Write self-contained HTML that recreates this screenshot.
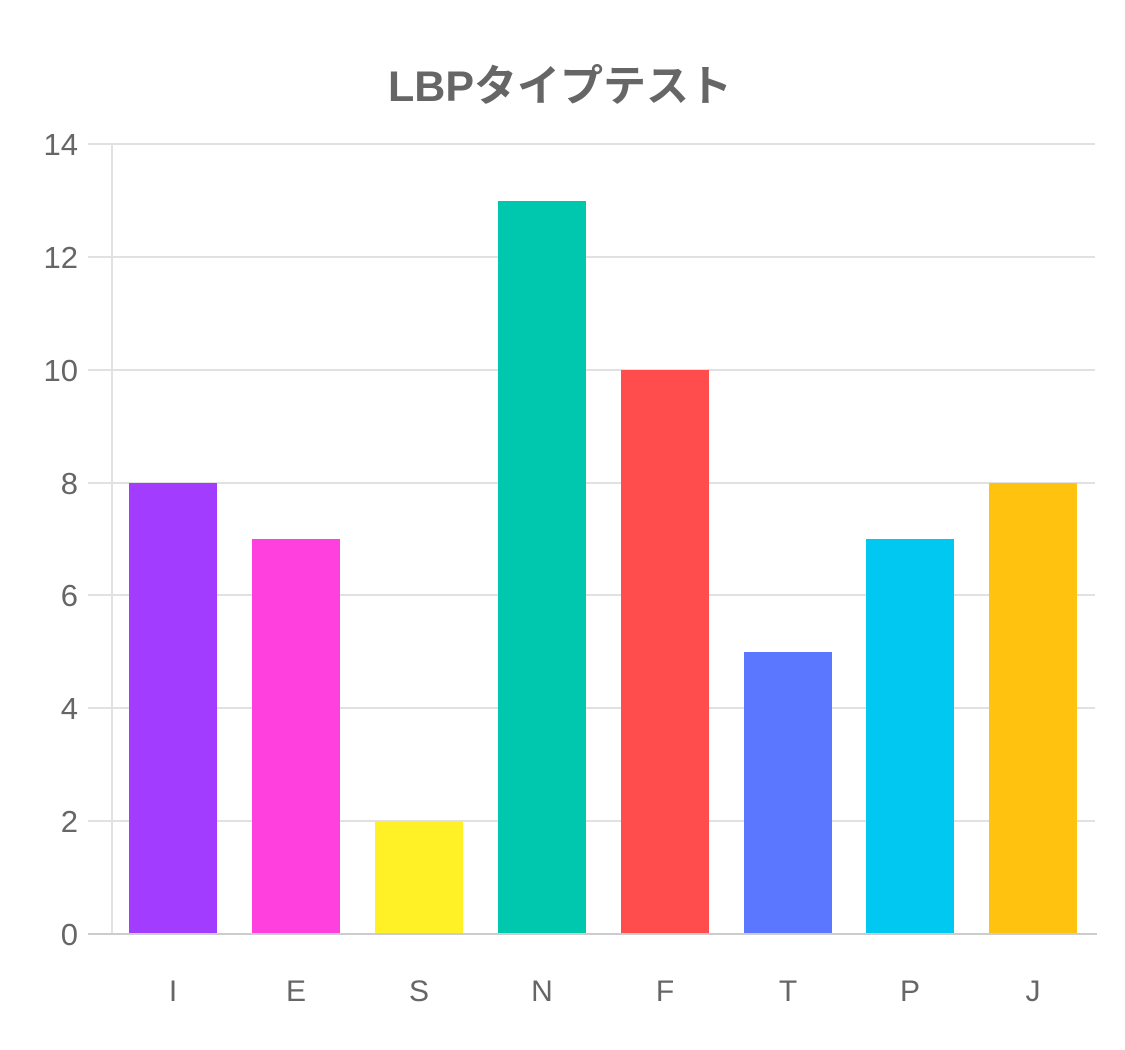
<!DOCTYPE html>
<html><head><meta charset="utf-8"><style>
html,body{margin:0;padding:0;background:#fff;}
</style></head><body>
<svg width="1125" height="1050" xmlns="http://www.w3.org/2000/svg" style="display:block">
<rect width="1125" height="1050" fill="#fff"/>
<text x="560" y="101" text-anchor="middle" font-family="'Liberation Sans','Noto Sans CJK JP',sans-serif" font-weight="bold" font-size="43" fill="#666">LBPタイプテスト</text>
<g stroke="#e1e1e1" stroke-width="2">
<line x1="88" y1="144" x2="1095" y2="144"/>
<line x1="88" y1="257" x2="1095" y2="257"/>
<line x1="88" y1="370" x2="1095" y2="370"/>
<line x1="88" y1="483" x2="1095" y2="483"/>
<line x1="88" y1="595" x2="1095" y2="595"/>
<line x1="88" y1="708" x2="1095" y2="708"/>
<line x1="88" y1="821" x2="1095" y2="821"/>
<line x1="112" y1="144" x2="112" y2="934"/>
</g>
<g>
<rect x="129" y="483" width="88" height="451" fill="#a23dff"/>
<rect x="252" y="539" width="88" height="395" fill="#ff40de"/>
<rect x="375" y="821" width="88" height="113" fill="#fff126"/>
<rect x="498" y="201" width="88" height="733" fill="#00c8ae"/>
<rect x="621" y="370" width="88" height="564" fill="#ff4d4d"/>
<rect x="744" y="652" width="88" height="282" fill="#5b76ff"/>
<rect x="866" y="539" width="88" height="395" fill="#00c8f0"/>
<rect x="989" y="483" width="88" height="451" fill="#ffc20f"/>
</g>
<line x1="88" y1="934" x2="1097" y2="934" stroke="#ccc" stroke-width="2"/>
<g font-family="'Liberation Sans',sans-serif" font-size="31" fill="#666" text-anchor="end">
<text x="78" y="155">14</text><text x="78" y="268">12</text><text x="78" y="381">10</text>
<text x="78" y="494">8</text><text x="78" y="606">6</text><text x="78" y="719">4</text>
<text x="78" y="832">2</text><text x="78" y="945">0</text>
</g>
<g font-family="'Liberation Sans',sans-serif" font-size="30" fill="#666" text-anchor="middle">
<text x="173" y="1001">I</text><text x="296" y="1001">E</text><text x="419" y="1001">S</text>
<text x="542" y="1001">N</text><text x="665" y="1001">F</text><text x="788" y="1001">T</text>
<text x="910" y="1001">P</text><text x="1033" y="1001">J</text>
</g>
</svg>
</body></html>
